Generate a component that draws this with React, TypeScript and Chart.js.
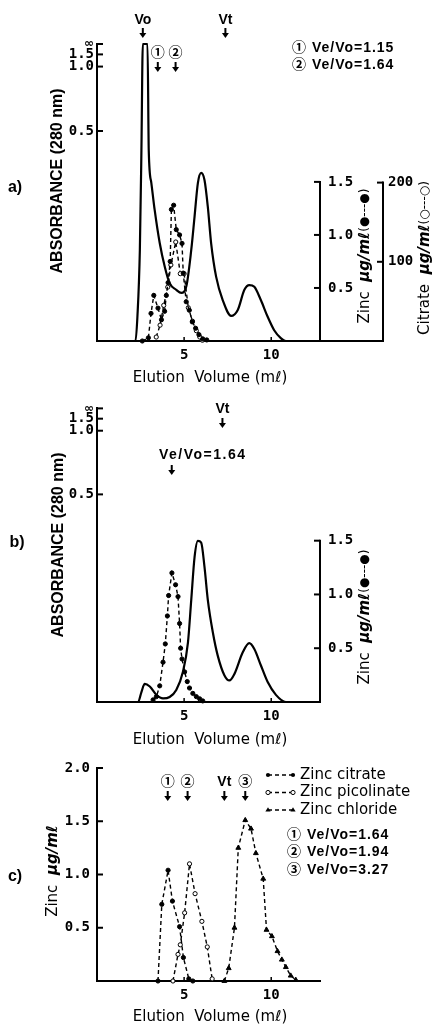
import React, { useEffect, useRef } from "react";
import { Chart, registerables } from "chart.js";

Chart.register(...registerables);

// ---------------- data ----------------
const X_TICKS = [5, 10];
const ABS_TICKS = [0.5, 1.0, 1.5, Infinity];
const ABS_TICK_LABELS = ["0.5", "1.0", "1.5", "∞"];
const ZN_TICKS_AB = [0.5, 1.0, 1.5];
const CIT_TICKS = [100, 200];
const ZN_TICKS_C = [0.5, 1.0, 1.5, 2.0];

// panel a) : absorbance (280 nm), zinc, citrate
const A_ABS_VOL = [0, 2.21, 2.32, 2.46, 2.55, 2.63, 2.9, 2.97, 3.12, 3.31, 3.6, 3.89, 4.17, 4.55, 4.84, 5.12, 5.41, 5.6, 5.79, 5.98, 6.17, 6.36, 6.55, 6.84, 7.22, 7.7, 8.08, 8.46, 8.74, 9.03, 9.41, 9.79, 10.17, 10.55, 10.84, 11.5];
const A_ABS = [0, 0, 0.035, 0.149, 0.419, Infinity, Infinity, 0.419, 0.309, 0.237, 0.163, 0.117, 0.088, 0.077, 0.072, 0.082, 0.149, 0.221, 0.309, 0.34, 0.318, 0.245, 0.163, 0.099, 0.06, 0.036, 0.045, 0.077, 0.085, 0.082, 0.06, 0.035, 0.015, 0.004, 0, 0];
const A_ZN_VOL = [2.6, 2.95, 3.1, 3.26, 3.5, 3.7, 3.88, 3.98, 4.08, 4.2, 4.27, 4.4, 4.55, 4.74, 4.88, 4.95, 5.12, 5.3, 5.47, 5.66, 5.85, 6.07, 6.3];
const A_ZN = [0, 0.03, 0.26, 0.43, 0.31, 0.2, 0.28, 0.43, 0.55, 0.75, 1.24, 1.28, 1.05, 1.0, 0.92, 0.64, 0.37, 0.29, 0.18, 0.12, 0.06, 0.02, 0.01];
const A_CIT_VOL = [3.4, 3.62, 3.83, 4.06, 4.24, 4.52, 4.78, 5.0, 5.24, 5.48, 5.7, 5.9, 6.05];
const A_CIT = [5, 20, 45, 68, 96, 125, 85, 85, 42, 25, 13, 5, 1];
const A_MARKERS = ["Vo", "Vt", "①", "②"];
const A_MARKER_VOL = [2.63, 7.37, 3.49, 4.51];
const A_RATIOS = ["① Ve/Vo=1.15", "② Ve/Vo=1.64"];

// panel b)
const B_ABS_VOL = [0, 2.36, 2.55, 2.74, 3.03, 3.41, 3.79, 4.17, 4.55, 4.93, 5.22, 5.41, 5.6, 5.79, 5.98, 6.17, 6.36, 6.65, 6.93, 7.31, 7.6, 7.89, 8.36, 8.74, 9.03, 9.41, 9.79, 10.27, 10.84, 11.5];
const B_ABS = [0, 0, 0.014, 0.026, 0.022, 0.01, 0.005, 0.007, 0.017, 0.044, 0.092, 0.174, 0.277, 0.324, 0.319, 0.251, 0.174, 0.11, 0.07, 0.039, 0.031, 0.041, 0.075, 0.091, 0.081, 0.054, 0.029, 0.01, 0, 0];
const B_ZN_VOL = [3.22, 3.41, 3.6, 3.79, 3.92, 4.04, 4.11, 4.3, 4.51, 4.65, 4.74, 4.8, 4.88, 5.03, 5.18, 5.31, 5.5, 5.7, 5.89, 6.07];
const B_ZN = [0.02, 0.05, 0.15, 0.37, 0.54, 0.8, 0.99, 1.2, 1.09, 0.98, 0.73, 0.5, 0.4, 0.28, 0.19, 0.13, 0.08, 0.05, 0.03, 0.01];
const B_MARKERS = ["Vt"];
const B_MARKER_VOL = [7.2];
const B_RATIO = "Ve/Vo=1.64";
const B_RATIO_VOL = 4.29;

// panel c)
const C_SERIES = ["Zinc citrate", "Zinc picolinate", "Zinc chloride"];
const C_CIT_VOL = [3.5, 3.72, 4.08, 4.33, 4.74, 4.96, 5.27, 5.5];
const C_CIT = [0, 0.72, 1.04, 0.75, 0.51, 0.22, 0.02, 0];
const C_PIC_VOL = [4.36, 4.65, 4.78, 5.03, 5.31, 5.63, 6.02, 6.33, 6.61];
const C_PIC = [0, 0.25, 0.34, 0.64, 1.1, 0.82, 0.56, 0.32, 0.02];
const C_CL_VOL = [7.31, 7.56, 7.89, 8.11, 8.51, 8.84, 9.12, 9.54, 9.73, 10.04, 10.36, 10.61, 10.84, 11.12, 11.41];
const C_CL = [0, 0.12, 0.5, 1.25, 1.51, 1.43, 1.2, 0.96, 0.48, 0.42, 0.28, 0.2, 0.13, 0.05, 0.01];
const C_MARKERS = ["①", "②", "Vt", "③"];
const C_MARKER_VOL = [4.06, 5.2, 7.31, 8.51];
const C_RATIOS = ["① Ve/Vo=1.64", "② Ve/Vo=1.94", "③ Ve/Vo=3.27"];

// ---------------- absorbance recorder scale ----------------
const ABS_K = 1.0667;
const ABS_KNOT_A = [0.5, 1.0, 1.5];
const ABS_KNOT_F = [0.707, 0.924, 0.965];
function absToFrac(a: number): number {
  if (!isFinite(a)) return 1;
  if (a <= 0.5) return 1 - Math.pow(10, -ABS_K * a);
  for (let i = 0; i < ABS_KNOT_A.length - 1; i++) {
    if (a <= ABS_KNOT_A[i + 1]) {
      const t = (a - ABS_KNOT_A[i]) / (ABS_KNOT_A[i + 1] - ABS_KNOT_A[i]);
      return ABS_KNOT_F[i] + t * (ABS_KNOT_F[i + 1] - ABS_KNOT_F[i]);
    }
  }
  return Math.min(1, 0.965 + (a - 1.5) * 0.035);
}

// ---------------- styles ----------------
const BLACK = "#000";
const TICK_FONT = { family: "'DejaVu Sans Mono'", size: 14, weight: "bold" as const };
const INF_FONT = { family: "'DejaVu Sans'", size: 12, weight: "bold" as const };
const F_MARK = "bold 14px 'Liberation Sans', 'Noto Sans CJK JP'";
const F_RATIO = "bold 14px 'Liberation Sans', 'Noto Sans CJK JP'";
const F_LETTER = "bold 16px 'Liberation Sans'";
const F_ABS = "bold 16px 'Liberation Sans'";
const F_XT = "15px 'DejaVu Sans'";
const F_ZN = "15px 'DejaVu Sans'";
const F_ZN_U = "italic bold 15px 'DejaVu Sans'";
const F_ZN_M = "12px 'DejaVu Sans'";
const F_LEG = "15px 'DejaVu Sans'";
const X_TITLE = "Elution  Volume (mℓ)";
const ABS_TITLE = "ABSORBANCE (280 nm)";

// ---------------- drawing helpers ----------------
function txt(ctx: CanvasRenderingContext2D, s: string, x: number, y: number, font: string, align: CanvasTextAlign = "center", rot = 0, spacing = "0px") {
  ctx.save();
  ctx.translate(x, y);
  ctx.rotate(rot);
  ctx.font = font;
  (ctx as any).letterSpacing = spacing;
  ctx.fillStyle = BLACK;
  ctx.textAlign = align;
  ctx.textBaseline = "middle";
  ctx.fillText(s, 0, 0);
  ctx.restore();
}
function rich(ctx: CanvasRenderingContext2D, parts: [string, string][], cx: number, cy: number, rot: number) {
  ctx.save();
  ctx.fillStyle = BLACK;
  ctx.textBaseline = "middle";
  ctx.textAlign = "left";
  let total = 0;
  const ws = parts.map(([s, f]) => {
    ctx.font = f;
    const w = ctx.measureText(s).width;
    total += w;
    return w;
  });
  ctx.translate(cx, cy);
  ctx.rotate(rot);
  let pos = -total / 2;
  parts.forEach(([s, f], i) => {
    ctx.font = f;
    ctx.fillText(s, pos, 0);
    pos += ws[i];
  });
  ctx.restore();
}
function line(ctx: CanvasRenderingContext2D, x1: number, y1: number, x2: number, y2: number, w = 2, dash: number[] = []) {
  ctx.save();
  ctx.strokeStyle = BLACK;
  ctx.lineWidth = w;
  ctx.setLineDash(dash);
  ctx.beginPath();
  ctx.moveTo(x1, y1);
  ctx.lineTo(x2, y2);
  ctx.stroke();
  ctx.restore();
}
function arrow(ctx: CanvasRenderingContext2D, x: number, y: number) {
  ctx.save();
  ctx.strokeStyle = BLACK;
  ctx.fillStyle = BLACK;
  ctx.lineWidth = 2;
  ctx.beginPath();
  ctx.moveTo(x, y);
  ctx.lineTo(x, y + 6);
  ctx.stroke();
  ctx.beginPath();
  ctx.moveTo(x - 3.5, y + 5);
  ctx.lineTo(x + 3.5, y + 5);
  ctx.lineTo(x, y + 10);
  ctx.closePath();
  ctx.fill();
  ctx.restore();
}
function marker(ctx: CanvasRenderingContext2D, kind: string, x: number, y: number) {
  ctx.save();
  ctx.strokeStyle = BLACK;
  ctx.fillStyle = BLACK;
  ctx.lineWidth = 1;
  ctx.beginPath();
  if (kind === "tri") {
    ctx.moveTo(x, y - 2.8);
    ctx.lineTo(x + 2.6, y + 1.6);
    ctx.lineTo(x - 2.6, y + 1.6);
    ctx.closePath();
    ctx.fill();
  } else {
    ctx.arc(x, y, 2.1, 0, Math.PI * 2);
    if (kind === "open") {
      ctx.fillStyle = "#fff";
      ctx.fill();
      ctx.stroke();
    } else ctx.fill();
  }
  ctx.restore();
}
function ticksY(ctx: CanvasRenderingContext2D, scale: any, x: number, dir: number, len: number) {
  scale.ticks.forEach((t: any) => {
    const y = scale.getPixelForValue(t.value);
    line(ctx, x, y, x + dir * len, y, 2);
  });
}
function ticksX(ctx: CanvasRenderingContext2D, scale: any, y: number) {
  scale.ticks.forEach((t: any) => {
    const x = scale.getPixelForValue(t.value);
    line(ctx, x, y, x, y - 4, 1.5);
  });
}

// ---------------- chart builders ----------------
const pts = (xs: number[], ys: number[], f: (v: number) => number = (v) => v) => xs.map((x, i) => ({ x, y: f(ys[i]) }));

const absDs = (xs: number[], ys: number[]) => ({
  data: pts(xs, ys, absToFrac),
  yAxisID: "y",
  borderColor: BLACK,
  borderWidth: 2.2,
  pointRadius: 0,
  cubicInterpolationMode: "monotone" as const,
  fill: false,
  clip: 4,
});
const dashDs = (xs: number[], ys: number[], axis: string, shape: string, fillColor: string, label: string) => ({
  label,
  data: pts(xs, ys),
  yAxisID: axis,
  borderColor: BLACK,
  borderWidth: 1.4,
  borderDash: [4, 3],
  pointRadius: shape === "triangle" ? 2.8 : 2.1,
  pointStyle: shape,
  pointBackgroundColor: fillColor,
  pointBorderColor: BLACK,
  pointBorderWidth: 1,
  tension: 0,
  fill: false,
  clip: 6,
});

const xAxis = (max: number, height: number) => ({
  type: "linear" as const,
  position: "bottom" as const,
  min: 0,
  max,
  afterBuildTicks: (s: any) => {
    s.ticks = X_TICKS.map((v) => ({ value: v }));
  },
  afterFit: (s: any) => {
    s.height = height;
  },
  ticks: { autoSkip: false, maxRotation: 0, color: BLACK, font: TICK_FONT, padding: 6, callback: (v: any) => String(v) },
  grid: { display: false, drawTicks: false },
  border: { display: true, color: BLACK, width: 2 },
});
const absAxis = () => ({
  type: "linear" as const,
  position: "left" as const,
  min: 0,
  max: 1,
  afterBuildTicks: (s: any) => {
    s.ticks = ABS_TICKS.map((v) => ({ value: absToFrac(v) }));
  },
  afterFit: (s: any) => {
    s.width = 97;
  },
  ticks: {
    autoSkip: false,
    color: BLACK,
    font: (c: any) => (ABS_TICK_LABELS[c.index] === "∞" ? INF_FONT : TICK_FONT),
    padding: 3,
    callback: (_v: any, i: number) => ABS_TICK_LABELS[i],
  },
  grid: { display: false, drawTicks: false },
  border: { display: true, color: BLACK, width: 2 },
});
const valAxis = (position: "left" | "right", max: number, ticks: number[], width: number, digits: number, padding: number, border: boolean) => ({
  type: "linear" as const,
  position,
  min: 0,
  max,
  afterBuildTicks: (s: any) => {
    s.ticks = ticks.map((v) => ({ value: v }));
  },
  afterFit: (s: any) => {
    s.width = width;
  },
  ticks: { autoSkip: false, color: BLACK, font: TICK_FONT, padding, callback: (v: any) => Number(v).toFixed(digits) },
  grid: { display: false, drawTicks: false },
  border: { display: border, color: BLACK, width: 2 },
});

const baseOptions = (padding: any, scales: any) => ({
  responsive: false,
  animation: false as const,
  events: [] as any[],
  layout: { padding },
  plugins: { legend: { display: false }, tooltip: { enabled: false } },
  scales,
});

const zincTitle = (ctx: CanvasRenderingContext2D, cx: number, cy: number, sym: string) =>
  rich(ctx, [["Zinc  ", F_ZN], ["μg/mℓ", F_ZN_U], [sym, F_ZN_M]], cx, cy, -Math.PI / 2);

function configA(): any {
  const decor = {
    id: "decorA",
    afterDraw(chart: any) {
      const { ctx, chartArea: ca, scales } = chart;
      const x = scales.x, y = scales.y, zn = scales.zn, cit = scales.cit;
      ticksY(ctx, y, ca.left, 1, 6);
      ticksX(ctx, x, ca.bottom);
      line(ctx, ca.right, zn.getPixelForValue(0) + 1, ca.right, zn.getPixelForValue(1.5) - 1, 2);
      ticksY(ctx, zn, ca.right, -1, 6);
      const cx = cit.left;
      line(ctx, cx, cit.getPixelForValue(0) + 1, cx, cit.getPixelForValue(200) - 1, 2);
      ticksY(ctx, cit, cx, -1, 6);
      line(ctx, ca.right, ca.bottom, cx, ca.bottom, 2);
      A_MARKERS.forEach((m, i) => {
        const px = x.getPixelForValue(A_MARKER_VOL[i]);
        const top = i < 2;
        txt(ctx, m, px, top ? 20 : 53, F_MARK);
        arrow(ctx, px, top ? 28 : 62);
      });
      A_RATIOS.forEach((r, i) => txt(ctx, r, 292, 48 + i * 17, F_RATIO, "left", 0, "1px"));
      txt(ctx, ABS_TITLE, 58, 181, F_ABS, "center", -Math.PI / 2);
      txt(ctx, "a)", 15, 188, F_LETTER);
      zincTitle(ctx, 365, 256, "(●---●)");
      rich(ctx, [["Citrate  ", F_ZN], ["μg/mℓ", F_ZN_U], ["(○---○)", F_ZN_M]], 425, 258, -Math.PI / 2);
      txt(ctx, X_TITLE, 210, 378, F_XT);
    },
  };
  return {
    type: "line",
    data: {
      datasets: [
        absDs(A_ABS_VOL, A_ABS),
        dashDs(A_ZN_VOL, A_ZN, "zn", "circle", BLACK, "Zinc"),
        dashDs(A_CIT_VOL, A_CIT, "cit", "circle", "#fff", "Citrate"),
      ],
    },
    options: baseOptions({ top: 44, left: 0, right: 0, bottom: 0 }, {
      x: xAxis(12.8, 51),
      y: absAxis(),
      zn: valAxis("right", 2.8, ZN_TICKS_AB, 63, 1, 8, false),
      cit: valAxis("right", 375, CIT_TICKS, 52, 0, 5, false),
    }),
    plugins: [decor],
  };
}

function configB(): any {
  const decor = {
    id: "decorB",
    afterDraw(chart: any) {
      const { ctx, chartArea: ca, scales } = chart;
      const x = scales.x, y = scales.y, zn = scales.zn;
      ticksY(ctx, y, ca.left, 1, 6);
      ticksX(ctx, x, ca.bottom);
      line(ctx, ca.right, zn.getPixelForValue(0) + 1, ca.right, zn.getPixelForValue(1.5) - 1, 2);
      ticksY(ctx, zn, ca.right, -1, 6);
      B_MARKERS.forEach((m, i) => {
        const px = x.getPixelForValue(B_MARKER_VOL[i]);
        txt(ctx, m, px, 17, F_MARK);
        arrow(ctx, px, 26);
      });
      txt(ctx, B_RATIO, 159, 63, F_RATIO, "left", 0, "1.5px");
      arrow(ctx, x.getPixelForValue(B_RATIO_VOL), 73);
      txt(ctx, ABS_TITLE, 59, 153, F_ABS, "center", -Math.PI / 2);
      txt(ctx, "b)", 17, 151, F_LETTER);
      zincTitle(ctx, 365, 225, "(●---●)");
      txt(ctx, X_TITLE, 210, 348, F_XT);
    },
  };
  return {
    type: "line",
    data: {
      datasets: [absDs(B_ABS_VOL, B_ABS), dashDs(B_ZN_VOL, B_ZN, "zn", "circle", BLACK, "Zinc")],
    },
    options: baseOptions({ top: 12, left: 0, right: 0, bottom: 0 }, {
      x: xAxis(12.8, 48),
      y: absAxis(),
      zn: valAxis("right", 2.73, ZN_TICKS_AB, 115, 1, 8, false),
    }),
    plugins: [decor],
  };
}

function configC(): any {
  const kinds = ["dot", "open", "tri"];
  const decor = {
    id: "decorC",
    afterDraw(chart: any) {
      const { ctx, chartArea: ca, scales } = chart;
      const x = scales.x, y = scales.y;
      ticksY(ctx, y, ca.left, 1, 6);
      ticksX(ctx, x, ca.bottom);
      C_MARKERS.forEach((m, i) => {
        const px = x.getPixelForValue(C_MARKER_VOL[i]);
        txt(ctx, m, px, 32, F_MARK);
        arrow(ctx, px, 41);
      });
      C_SERIES.forEach((s, i) => {
        const yy = 25 + i * 17.5;
        line(ctx, 268, yy, 293, yy, 1.4, [4, 3]);
        marker(ctx, kinds[i], 268, yy);
        marker(ctx, kinds[i], 293, yy);
        txt(ctx, s, 300, yy, F_LEG, "left");
      });
      C_RATIOS.forEach((r, i) => txt(ctx, r, 287, 85 + i * 17.5, F_RATIO, "left", 0, "1px"));
      rich(ctx, [["Zinc  ", F_ZN], ["μg/mℓ", F_ZN_U]], 53, 121, -Math.PI / 2);
      txt(ctx, "c)", 15, 127, F_LETTER);
      txt(ctx, X_TITLE, 210, 267, F_XT);
    },
  };
  return {
    type: "line",
    data: {
      datasets: [
        dashDs(C_CIT_VOL, C_CIT, "y", "circle", BLACK, C_SERIES[0]),
        dashDs(C_PIC_VOL, C_PIC, "y", "circle", "#fff", C_SERIES[1]),
        dashDs(C_CL_VOL, C_CL, "y", "triangle", BLACK, C_SERIES[2]),
      ],
    },
    options: baseOptions({ top: 18, left: 0, right: 115, bottom: 0 }, {
      x: xAxis(12.8, 46),
      y: valAxis("left", 2.0, ZN_TICKS_C, 97, 1, 7, true),
    }),
    plugins: [decor],
  };
}

export default function App() {
  const ra = useRef<HTMLCanvasElement>(null);
  const rb = useRef<HTMLCanvasElement>(null);
  const rc = useRef<HTMLCanvasElement>(null);
  useEffect(() => {
    const charts = [
      new Chart(ra.current as HTMLCanvasElement, configA()),
      new Chart(rb.current as HTMLCanvasElement, configB()),
      new Chart(rc.current as HTMLCanvasElement, configC()),
    ];
    return () => charts.forEach((c) => c.destroy());
  }, []);
  return (
    <div style={{ position: "absolute", left: 0, top: 0, width: 435, height: 1027, background: "#fff" }}>
      <canvas ref={ra} width={435} height={392} style={{ position: "absolute", left: 0, top: 0 }} />
      <canvas ref={rb} width={435} height={358} style={{ position: "absolute", left: 0, top: 392 }} />
      <canvas ref={rc} width={435} height={277} style={{ position: "absolute", left: 0, top: 750 }} />
    </div>
  );
}
